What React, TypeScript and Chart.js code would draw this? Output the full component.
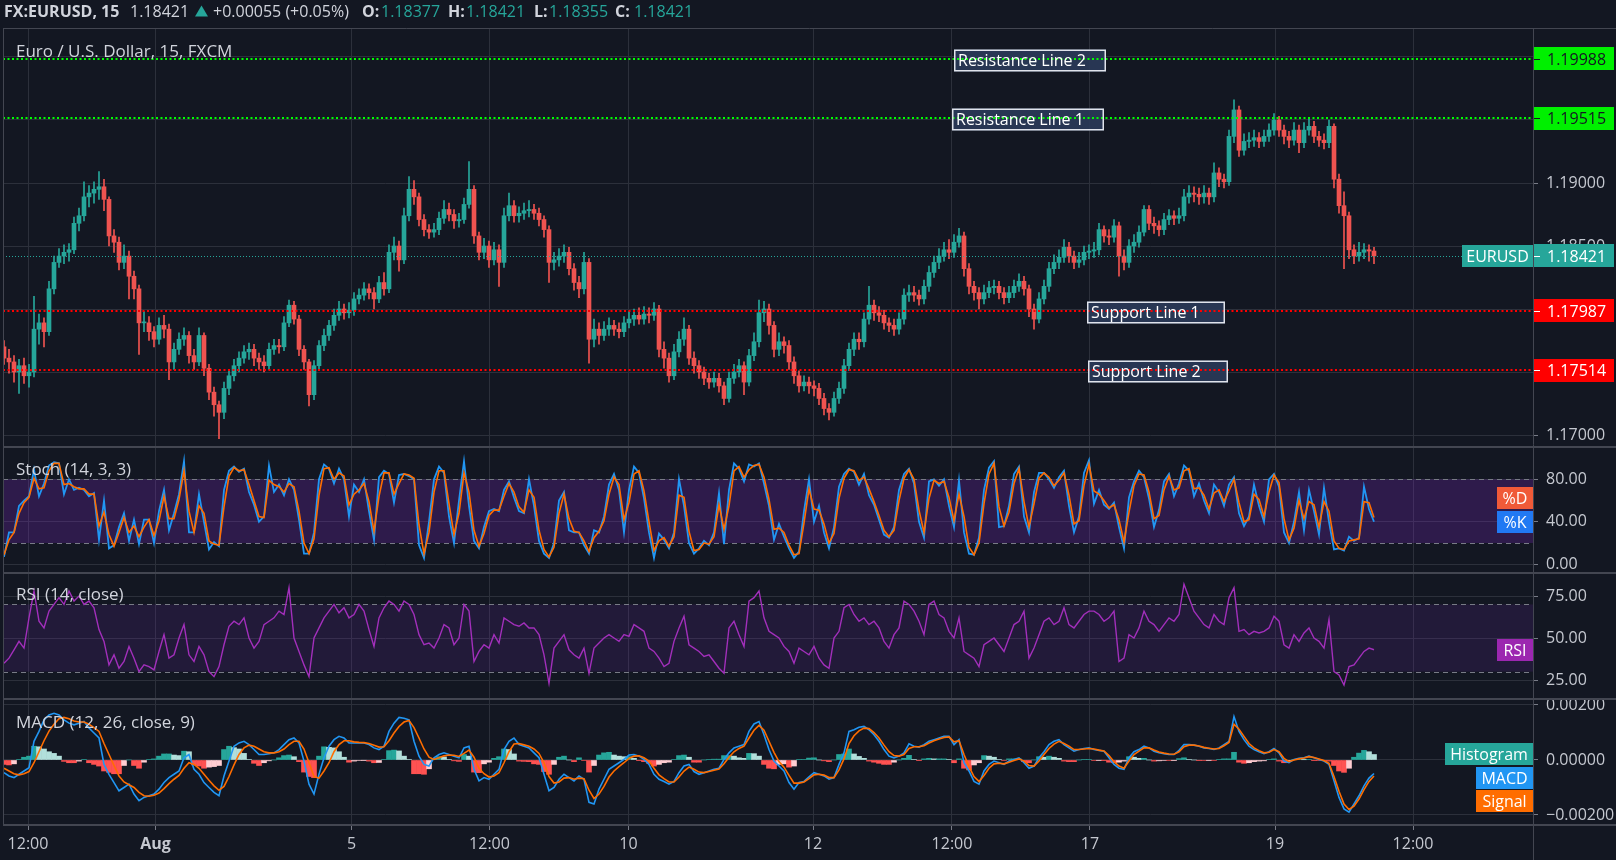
import { useEffect, useRef } from "react";
import { Chart, registerables } from "chart.js";

Chart.register(...registerables);

// ---------------- data (15-min EURUSD, resampled) ----------------
const OPEN = [
  1.1770, 1.1761, 1.1758, 1.1750, 1.1755, 1.1747, 1.1750, 1.1784, 1.1789, 1.1782,
  1.1816, 1.1837, 1.1842, 1.1845, 1.1847, 1.1868, 1.1874, 1.1889, 1.1892, 1.1895,
  1.1897, 1.1887, 1.1858, 1.1853, 1.1837, 1.1842, 1.1826, 1.1816, 1.1789, 1.1789,
  1.1782, 1.1776, 1.1787, 1.1784, 1.1758, 1.1768, 1.1776, 1.1779, 1.1763, 1.1758,
  1.1779, 1.1753, 1.1734, 1.1724, 1.1718, 1.1737, 1.1747, 1.1755, 1.1761, 1.1766,
  1.1768, 1.1761, 1.1758, 1.1755, 1.1768, 1.1771, 1.1770, 1.1789, 1.1803, 1.1792,
  1.1768, 1.1758, 1.1732, 1.1755, 1.1771, 1.1779, 1.1787, 1.1795, 1.1800, 1.1797,
  1.1799, 1.1808, 1.1811, 1.1816, 1.1813, 1.1808, 1.1821, 1.1816, 1.1845, 1.1850,
  1.1839, 1.1874, 1.1895, 1.1889, 1.1871, 1.1863, 1.1861, 1.1863, 1.1872, 1.1879,
  1.1875, 1.1870, 1.1871, 1.1883, 1.1895, 1.1858, 1.1845, 1.1850, 1.1839, 1.1847,
  1.1837, 1.1874, 1.1882, 1.1874, 1.1876, 1.1878, 1.1879, 1.1876, 1.1871, 1.1863,
  1.1837, 1.1839, 1.1842, 1.1845, 1.1832, 1.1821, 1.1816, 1.1837, 1.1776, 1.1784,
  1.1779, 1.1784, 1.1787, 1.1784, 1.1782, 1.1789, 1.1792, 1.1795, 1.1792, 1.1796,
  1.1795, 1.1800, 1.1768, 1.1761, 1.1747, 1.1766, 1.1776, 1.1784, 1.1761, 1.1755,
  1.1750, 1.1745, 1.1742, 1.1745, 1.1739, 1.1729, 1.1745, 1.1750, 1.1755, 1.1742,
  1.1763, 1.1774, 1.1797, 1.1800, 1.1787, 1.1768, 1.1774, 1.1771, 1.1758, 1.1747,
  1.1739, 1.1742, 1.1739, 1.1737, 1.1729, 1.1721, 1.1718, 1.1729, 1.1737, 1.1755,
  1.1768, 1.1776, 1.1774, 1.1792, 1.1803, 1.1797, 1.1795, 1.1789, 1.1787, 1.1784,
  1.1792, 1.1811, 1.1813, 1.1811, 1.1808, 1.1818, 1.1829, 1.1837, 1.1842, 1.1847,
  1.1845, 1.1853, 1.1858, 1.1832, 1.1818, 1.1813, 1.1808, 1.1813, 1.1817, 1.1818,
  1.1813, 1.1809, 1.1813, 1.1818, 1.1822, 1.1816, 1.1800, 1.1792, 1.1808, 1.1818,
  1.1832, 1.1837, 1.1841, 1.1849, 1.1842, 1.1837, 1.1839, 1.1845, 1.1846, 1.1847,
  1.1863, 1.1858, 1.1857, 1.1866, 1.1842, 1.1837, 1.1850, 1.1853, 1.1861, 1.1879,
  1.1868, 1.1866, 1.1863, 1.1871, 1.1874, 1.1872, 1.1874, 1.1889, 1.1892, 1.1891,
  1.1889, 1.1892, 1.1889, 1.1908, 1.1903, 1.1901, 1.1937, 1.1958, 1.1926, 1.1933,
  1.1934, 1.1936, 1.1933, 1.1937, 1.1942, 1.1950, 1.1942, 1.1937, 1.1934, 1.1942,
  1.1932, 1.1942, 1.1945, 1.1937, 1.1934, 1.1932, 1.1945, 1.1903, 1.1882, 1.1874,
  1.1847, 1.1842, 1.1845, 1.1847, 1.1846,
];
const HIGH = [
  1.1775, 1.1768, 1.1763, 1.1760, 1.1761, 1.1756, 1.1810, 1.1796, 1.1793, 1.1822,
  1.1842, 1.1848, 1.1851, 1.1852, 1.1873, 1.1880, 1.1901, 1.1898, 1.1901, 1.1909,
  1.1903, 1.1889, 1.1863, 1.1857, 1.1851, 1.1846, 1.1830, 1.1819, 1.1798, 1.1794,
  1.1786, 1.1793, 1.1795, 1.1788, 1.1773, 1.1781, 1.1785, 1.1782, 1.1768, 1.1785,
  1.1781, 1.1756, 1.1738, 1.1727, 1.1742, 1.1752, 1.1760, 1.1766, 1.1771, 1.1773,
  1.1772, 1.1765, 1.1763, 1.1773, 1.1776, 1.1776, 1.1794, 1.1807, 1.1806, 1.1795,
  1.1771, 1.1760, 1.1759, 1.1775, 1.1784, 1.1791, 1.1800, 1.1806, 1.1804, 1.1805,
  1.1813, 1.1816, 1.1821, 1.1820, 1.1817, 1.1826, 1.1829, 1.1851, 1.1857, 1.1854,
  1.1880, 1.1905, 1.1902, 1.1892, 1.1875, 1.1867, 1.1868, 1.1877, 1.1886, 1.1884,
  1.1879, 1.1876, 1.1888, 1.1917, 1.1898, 1.1861, 1.1856, 1.1854, 1.1853, 1.1851,
  1.1880, 1.1892, 1.1886, 1.1881, 1.1884, 1.1886, 1.1883, 1.1880, 1.1874, 1.1866,
  1.1845, 1.1848, 1.1851, 1.1849, 1.1836, 1.1826, 1.1845, 1.1840, 1.1792, 1.1789,
  1.1790, 1.1793, 1.1791, 1.1789, 1.1794, 1.1798, 1.1800, 1.1801, 1.1802, 1.1801,
  1.1805, 1.1803, 1.1774, 1.1765, 1.1772, 1.1782, 1.1793, 1.1787, 1.1766, 1.1759,
  1.1754, 1.1749, 1.1750, 1.1749, 1.1742, 1.1750, 1.1756, 1.1760, 1.1758, 1.1768,
  1.1781, 1.1807, 1.1806, 1.1804, 1.1790, 1.1781, 1.1778, 1.1775, 1.1762, 1.1751,
  1.1747, 1.1746, 1.1743, 1.1741, 1.1733, 1.1725, 1.1734, 1.1742, 1.1760, 1.1773,
  1.1781, 1.1781, 1.1797, 1.1818, 1.1807, 1.1802, 1.1799, 1.1793, 1.1792, 1.1797,
  1.1816, 1.1819, 1.1818, 1.1815, 1.1823, 1.1834, 1.1842, 1.1848, 1.1853, 1.1855,
  1.1859, 1.1864, 1.1861, 1.1836, 1.1822, 1.1817, 1.1819, 1.1822, 1.1823, 1.1822,
  1.1817, 1.1818, 1.1823, 1.1828, 1.1826, 1.1819, 1.1804, 1.1813, 1.1823, 1.1837,
  1.1843, 1.1847, 1.1855, 1.1853, 1.1846, 1.1845, 1.1850, 1.1851, 1.1853, 1.1868,
  1.1866, 1.1863, 1.1871, 1.1869, 1.1847, 1.1855, 1.1859, 1.1866, 1.1882, 1.1882,
  1.1873, 1.1870, 1.1876, 1.1879, 1.1878, 1.1880, 1.1895, 1.1898, 1.1897, 1.1896,
  1.1898, 1.1896, 1.1916, 1.1912, 1.1907, 1.1942, 1.1966, 1.1961, 1.1939, 1.1940,
  1.1942, 1.1940, 1.1942, 1.1947, 1.1955, 1.1953, 1.1946, 1.1941, 1.1948, 1.1946,
  1.1948, 1.1951, 1.1949, 1.1941, 1.1939, 1.1950, 1.1947, 1.1907, 1.1893, 1.1877,
  1.1851, 1.1853, 1.1852, 1.1851, 1.1849,
];
const LOW = [
  1.1756, 1.1749, 1.1742, 1.1733, 1.1741, 1.1738, 1.1746, 1.1772, 1.1770, 1.1779,
  1.1812, 1.1833, 1.1836, 1.1838, 1.1844, 1.1862, 1.1870, 1.1881, 1.1884, 1.1887,
  1.1878, 1.1850, 1.1845, 1.1831, 1.1832, 1.1808, 1.1808, 1.1764, 1.1782, 1.1775,
  1.1770, 1.1772, 1.1777, 1.1744, 1.1752, 1.1764, 1.1771, 1.1757, 1.1752, 1.1755,
  1.1747, 1.1728, 1.1715, 1.1697, 1.1713, 1.1732, 1.1743, 1.1750, 1.1757, 1.1760,
  1.1755, 1.1752, 1.1750, 1.1752, 1.1764, 1.1765, 1.1767, 1.1786, 1.1788, 1.1763,
  1.1752, 1.1723, 1.1728, 1.1751, 1.1767, 1.1775, 1.1783, 1.1791, 1.1792, 1.1793,
  1.1795, 1.1804, 1.1807, 1.1808, 1.1800, 1.1805, 1.1811, 1.1813, 1.1839, 1.1830,
  1.1836, 1.1870, 1.1883, 1.1866, 1.1858, 1.1856, 1.1857, 1.1859, 1.1868, 1.1870,
  1.1864, 1.1865, 1.1868, 1.1880, 1.1852, 1.1839, 1.1840, 1.1833, 1.1835, 1.1818,
  1.1833, 1.1870, 1.1869, 1.1869, 1.1871, 1.1873, 1.1871, 1.1866, 1.1857, 1.1821,
  1.1831, 1.1834, 1.1837, 1.1827, 1.1815, 1.1809, 1.1812, 1.1757, 1.1770, 1.1772,
  1.1775, 1.1779, 1.1779, 1.1777, 1.1778, 1.1785, 1.1787, 1.1788, 1.1788, 1.1789,
  1.1791, 1.1762, 1.1753, 1.1742, 1.1744, 1.1762, 1.1771, 1.1756, 1.1749, 1.1745,
  1.1740, 1.1737, 1.1738, 1.1734, 1.1724, 1.1726, 1.1741, 1.1746, 1.1732, 1.1739,
  1.1759, 1.1770, 1.1790, 1.1780, 1.1762, 1.1763, 1.1765, 1.1752, 1.1741, 1.1734,
  1.1735, 1.1733, 1.1731, 1.1724, 1.1716, 1.1712, 1.1715, 1.1725, 1.1733, 1.1751,
  1.1763, 1.1768, 1.1770, 1.1788, 1.1791, 1.1790, 1.1784, 1.1782, 1.1779, 1.1780,
  1.1788, 1.1806, 1.1806, 1.1803, 1.1804, 1.1814, 1.1825, 1.1832, 1.1838, 1.1840,
  1.1841, 1.1849, 1.1826, 1.1812, 1.1807, 1.1800, 1.1804, 1.1809, 1.1812, 1.1808,
  1.1804, 1.1805, 1.1809, 1.1814, 1.1811, 1.1794, 1.1784, 1.1789, 1.1804, 1.1814,
  1.1828, 1.1832, 1.1837, 1.1837, 1.1832, 1.1833, 1.1835, 1.1840, 1.1841, 1.1843,
  1.1853, 1.1851, 1.1853, 1.1826, 1.1831, 1.1833, 1.1845, 1.1849, 1.1858, 1.1863,
  1.1860, 1.1858, 1.1859, 1.1867, 1.1867, 1.1868, 1.1870, 1.1884, 1.1885, 1.1883,
  1.1884, 1.1883, 1.1885, 1.1897, 1.1896, 1.1898, 1.1932, 1.1921, 1.1922, 1.1928,
  1.1929, 1.1928, 1.1929, 1.1933, 1.1938, 1.1937, 1.1931, 1.1928, 1.1930, 1.1924,
  1.1928, 1.1938, 1.1932, 1.1929, 1.1927, 1.1928, 1.1896, 1.1876, 1.1832, 1.1840,
  1.1836, 1.1838, 1.1840, 1.1838, 1.1836,
];
const CLOSE = [
  1.1761, 1.1758, 1.1750, 1.1755, 1.1747, 1.1750, 1.1784, 1.1789, 1.1782, 1.1816,
  1.1837, 1.1842, 1.1845, 1.1847, 1.1868, 1.1874, 1.1889, 1.1892, 1.1895, 1.1897,
  1.1887, 1.1858, 1.1853, 1.1837, 1.1842, 1.1826, 1.1816, 1.1789, 1.1789, 1.1782,
  1.1776, 1.1787, 1.1784, 1.1758, 1.1768, 1.1776, 1.1779, 1.1763, 1.1758, 1.1779,
  1.1753, 1.1734, 1.1724, 1.1718, 1.1737, 1.1747, 1.1755, 1.1761, 1.1766, 1.1768,
  1.1761, 1.1758, 1.1755, 1.1768, 1.1771, 1.1770, 1.1789, 1.1803, 1.1792, 1.1768,
  1.1758, 1.1732, 1.1755, 1.1771, 1.1779, 1.1787, 1.1795, 1.1800, 1.1797, 1.1799,
  1.1808, 1.1811, 1.1816, 1.1813, 1.1808, 1.1821, 1.1816, 1.1845, 1.1850, 1.1839,
  1.1874, 1.1895, 1.1889, 1.1871, 1.1863, 1.1861, 1.1863, 1.1872, 1.1879, 1.1875,
  1.1870, 1.1871, 1.1883, 1.1895, 1.1858, 1.1845, 1.1850, 1.1839, 1.1847, 1.1837,
  1.1874, 1.1882, 1.1874, 1.1876, 1.1878, 1.1879, 1.1876, 1.1871, 1.1863, 1.1837,
  1.1839, 1.1842, 1.1845, 1.1832, 1.1821, 1.1816, 1.1837, 1.1776, 1.1784, 1.1779,
  1.1784, 1.1787, 1.1784, 1.1782, 1.1789, 1.1792, 1.1795, 1.1792, 1.1796, 1.1795,
  1.1800, 1.1768, 1.1761, 1.1747, 1.1766, 1.1776, 1.1784, 1.1761, 1.1755, 1.1750,
  1.1745, 1.1742, 1.1745, 1.1739, 1.1729, 1.1745, 1.1750, 1.1755, 1.1742, 1.1763,
  1.1774, 1.1797, 1.1800, 1.1787, 1.1768, 1.1774, 1.1771, 1.1758, 1.1747, 1.1739,
  1.1742, 1.1739, 1.1737, 1.1729, 1.1721, 1.1718, 1.1729, 1.1737, 1.1755, 1.1768,
  1.1776, 1.1774, 1.1792, 1.1803, 1.1797, 1.1795, 1.1789, 1.1787, 1.1784, 1.1792,
  1.1811, 1.1813, 1.1811, 1.1808, 1.1818, 1.1829, 1.1837, 1.1842, 1.1847, 1.1845,
  1.1853, 1.1858, 1.1832, 1.1818, 1.1813, 1.1808, 1.1813, 1.1817, 1.1818, 1.1813,
  1.1809, 1.1813, 1.1818, 1.1822, 1.1816, 1.1800, 1.1792, 1.1808, 1.1818, 1.1832,
  1.1837, 1.1841, 1.1849, 1.1842, 1.1837, 1.1839, 1.1845, 1.1846, 1.1847, 1.1863,
  1.1858, 1.1857, 1.1866, 1.1842, 1.1837, 1.1850, 1.1853, 1.1861, 1.1879, 1.1868,
  1.1866, 1.1863, 1.1871, 1.1874, 1.1872, 1.1874, 1.1889, 1.1892, 1.1891, 1.1889,
  1.1892, 1.1889, 1.1908, 1.1903, 1.1901, 1.1937, 1.1958, 1.1926, 1.1933, 1.1934,
  1.1936, 1.1933, 1.1937, 1.1942, 1.1950, 1.1942, 1.1937, 1.1934, 1.1942, 1.1932,
  1.1942, 1.1945, 1.1937, 1.1934, 1.1932, 1.1945, 1.1903, 1.1882, 1.1874, 1.1847,
  1.1842, 1.1845, 1.1847, 1.1846, 1.18421,
];

const STOCH_K = [
  7, 30, 30, 55, 60, 64, 89, 64, 76, 93,
  96, 95, 66, 80, 70, 72, 70, 64, 67, 23,
  60, 15, 18, 35, 48, 22, 42, 19, 42, 42,
  20, 50, 70, 32, 48, 66, 97, 30, 30, 66,
  40, 14, 21, 17, 70, 88, 92, 87, 90, 68,
  56, 40, 45, 93, 68, 75, 65, 80, 70, 42,
  10, 10, 30, 80, 94, 90, 76, 90, 80, 45,
  75, 68, 80, 50, 23, 82, 88, 85, 58, 84,
  85, 83, 80, 18, 6, 40, 80, 92, 86, 45,
  20, 60, 97, 55, 22, 15, 35, 50, 52, 50,
  70, 78, 63, 50, 48, 80, 55, 22, 10, 6,
  20, 60, 68, 32, 30, 30, 18, 10, 32, 30,
  45, 75, 85, 70, 30, 70, 92, 86, 62, 30,
  6, 29, 23, 15, 30, 80, 55, 20, 10, 15,
  22, 18, 30, 67, 19, 70, 95, 90, 78, 94,
  92, 95, 76, 55, 23, 38, 26, 15, 6, 12,
  50, 80, 40, 55, 30, 15, 35, 73, 85, 90,
  87, 75, 85, 65, 56, 42, 28, 25, 35, 70,
  85, 90, 76, 40, 25, 78, 80, 74, 80, 55,
  35, 79, 30, 10, 9, 25, 70, 91, 97, 35,
  36, 55, 85, 92, 45, 30, 68, 86, 86, 80,
  72, 82, 88, 55, 30, 45, 86, 98, 57, 70,
  56, 52, 58, 35, 15, 63, 78, 88, 82, 62,
  35, 51, 78, 85, 64, 76, 93, 88, 64, 76,
  60, 48, 75, 68, 55, 75, 82, 48, 36, 45,
  75, 55, 40, 80, 85, 73, 30, 20, 40, 68,
  32, 70, 50, 28, 72, 40, 14, 15, 13, 26,
  22, 25, 73, 52, 40,
];
const STOCH_D = [
  9, 23, 30, 48, 58, 63, 81, 71, 72, 88,
  95, 95, 75, 76, 73, 71, 71, 66, 66, 36,
  49, 28, 17, 30, 44, 30, 36, 26, 35, 42,
  27, 41, 64, 43, 43, 61, 88, 50, 30, 55,
  48, 22, 19, 18, 54, 83, 91, 88, 89, 75,
  60, 45, 44, 79, 75, 73, 68, 76, 73, 50,
  20, 10, 24, 65, 90, 91, 80, 86, 83, 56,
  66, 70, 76, 59, 31, 64, 86, 86, 66, 76,
  85, 84, 81, 37, 10, 30, 68, 88, 88, 57,
  28, 48, 86, 68, 32, 17, 29, 46, 51, 51,
  64, 76, 68, 54, 49, 70, 63, 32, 14, 7,
  16, 48, 66, 43, 31, 30, 22, 12, 25, 31,
  41, 66, 82, 75, 42, 58, 85, 88, 69, 40,
  13, 22, 25, 17, 26, 65, 63, 31, 13, 14,
  20, 19, 26, 56, 33, 55, 88, 92, 82, 89,
  93, 94, 82, 61, 33, 34, 30, 18, 9, 10,
  39, 71, 52, 51, 38, 20, 29, 62, 81, 89,
  88, 79, 82, 71, 59, 46, 32, 26, 32, 60,
  81, 89, 80, 51, 30, 62, 79, 76, 78, 63,
  41, 66, 45, 16, 9, 20, 57, 85, 95, 54,
  36, 49, 76, 90, 59, 35, 57, 81, 86, 82,
  74, 79, 86, 65, 38, 41, 74, 94, 69, 66,
  60, 53, 56, 42, 21, 49, 74, 85, 84, 68,
  43, 46, 70, 83, 70, 72, 88, 90, 71, 72,
  65, 52, 67, 70, 59, 69, 80, 58, 40, 42,
  66, 61, 45, 68, 84, 77, 43, 23, 34, 60,
  43, 59, 56, 35, 59, 50, 22, 15, 14, 22,
  23, 24, 59, 58, 44,
];

const RSI = [
  35, 38, 43, 48, 44, 62, 78, 60, 56, 66,
  70, 74, 70, 78, 72, 75, 70, 72, 68, 55,
  48, 34, 40, 32, 36, 45, 38, 30, 34, 33,
  31, 42, 52, 38, 40, 50, 58, 40, 36, 45,
  40, 30, 27, 33, 46, 57, 60, 58, 62, 50,
  44, 48, 58, 60, 62, 66, 64, 80, 50, 42,
  34, 27, 50, 56, 62, 66, 70, 65, 68, 62,
  64, 70, 66, 55, 45, 62, 68, 72, 70, 66,
  72, 70, 64, 52, 46, 47, 44, 50, 58, 56,
  46, 50, 70, 66, 36, 42, 46, 44, 52, 47,
  62, 60, 58, 57, 59, 56, 56, 52, 40, 23,
  44, 48, 52, 43, 40, 38, 44, 29, 44, 47,
  50, 52, 50, 48, 52, 51, 58, 56, 54, 44,
  42, 38, 33, 35, 48, 56, 63, 46, 44, 42,
  39, 40, 36, 32, 29, 56, 60, 52, 45, 72,
  74, 78, 62, 54, 52, 50, 45, 42, 35, 44,
  42, 40, 45, 38, 34, 32, 50, 54, 68, 70,
  64, 60, 62, 58, 60, 56, 48, 44, 52, 56,
  72, 70, 66, 60, 52, 70, 72, 64, 62, 54,
  50, 62, 42, 40, 38, 33, 46, 48, 50, 46,
  42, 50, 58, 60, 66, 38, 44, 52, 60, 62,
  58, 60, 68, 58, 56, 60, 64, 66, 66, 64,
  60, 62, 66, 36, 38, 52, 50, 56, 66, 60,
  58, 54, 58, 62, 60, 64, 82, 74, 66, 62,
  58, 56, 64, 60, 58, 74, 80, 54, 55, 52,
  54, 53, 54, 56, 63, 60, 46, 44, 52, 48,
  53, 56, 50, 48, 44, 61, 30, 28, 22, 33,
  34, 38, 42, 44, 43,
];

const MACD = [
  -0.00046, -0.00058, -0.00064, -0.00052, -0.0004, -0.00028, 0.00068, 0.00104, 0.00146, 0.00164,
  0.0017, 0.00164, 0.00146, 0.00134, 0.00128, 0.00134, 0.0014, 0.00116, 0.00098, 0.0008,
  -0.00016, -0.00052, -0.00082, -0.00112, -0.001, -0.00088, -0.00124, -0.00148, -0.00136, -0.0013,
  -0.00124, -0.00106, -0.00082, -0.00064, -0.00052, -0.0004, 0.00008, 0.0002, -0.00034, -0.00052,
  -0.00082, -0.001, -0.00118, -0.0013, -0.00058, -0.00004, 0.0005, 0.00062, 0.00068, 0.00056,
  0.00038, 0.0002, 0.0002, 0.00023, 0.00026, 0.00038, 0.00056, 0.00074, 0.0008, 0.00062,
  -0.00004, -0.00088, -0.00124, -0.00052, 0.00008, 0.0005, 0.00074, 0.00086, 0.0008, 0.00062,
  0.00062, 0.00062, 0.00062, 0.00056, 0.00044, 0.00038, 0.0005, 0.00104, 0.00134, 0.00155,
  0.00152, 0.00146, 0.00068, 0.00014, -0.00016, -0.00022, 0.00008, 0.0002, 0.00026, 0.0002,
  0.00014, 0.00008, 0.00044, 0.0005, -0.00034, -0.00076, -0.00064, -0.0007, -0.00052, -0.00034,
  0.00038, 0.00068, 0.0008, 0.00056, 0.0005, 0.00044, 0.00026, 0.00008, -0.00052, -0.00112,
  -0.001, -0.0007, -0.00052, -0.00064, -0.00076, -0.00058, -0.0007, -0.00154, -0.0016, -0.00106,
  -0.0007, -0.00034, -0.00022, -0.0001, 0.00002, 0.00018, 0.0002, 0.00014, 0.00002, -0.00016,
  -0.00052, -0.0007, -0.00078, -0.00088, -0.00078, -0.00046, -0.00022, -0.00016, -0.00042, -0.00052,
  -0.00046, -0.0004, -0.00034, -0.0003, 0.00002, 0.00026, 0.00044, 0.0005, 0.00056, 0.00104,
  0.00131, 0.0014, 0.00092, 0.00038, -0.00004, -0.00022, -0.0004, -0.00082, -0.00106, -0.00082,
  -0.00078, -0.00061, -0.00046, -0.00052, -0.00058, -0.0007, -0.00064, -0.00016, 0.00026, 0.00104,
  0.0011, 0.00119, 0.00122, 0.0011, 0.00092, 0.00068, 0.00038, 0.00014, 0.00008, 0.00014,
  0.00026, 0.00059, 0.0005, 0.00047, 0.00056, 0.00068, 0.00074, 0.0008, 0.00086, 0.00086,
  0.00056, 0.00074, -0.0001, -0.0004, -0.00078, -0.00088, -0.0004, -0.00016, -0.00004, -0.0001,
  -0.00016, -0.00004, 0.00002, 0.00008, -0.0001, -0.0003, -0.00022, 0.00008, 0.0003, 0.00056,
  0.00068, 0.00074, 0.00056, 0.00044, 0.00032, 0.00038, 0.00042, 0.00044, 0.00038, 0.00035,
  0.00032, 0.00008, -0.00016, -0.0003, -0.00034, 0.00008, 0.0003, 0.00038, 0.0005, 0.00044,
  0.00032, 0.00026, 0.00023, 0.0002, 0.0002, 0.00035, 0.00056, 0.00056, 0.00054, 0.0005,
  0.00044, 0.00042, 0.00038, 0.00044, 0.00056, 0.00068, 0.00158, 0.00104, 0.00074, 0.0005,
  0.00038, 0.0003, 0.00023, 0.0003, 0.00042, 0.00026, -0.00004, -0.0001, 0.00002, 0.00006,
  0.00008, 0.00014, 0.00008, 0.00002, -0.00004, -0.00016, -0.00076, -0.00136, -0.00178, -0.0019,
  -0.0016, -0.0013, -0.00094, -0.00066, -0.00049,
];
const SIGNAL = [
  -0.0003, -0.0004, -0.0005, -0.00054, -0.0005, -0.00042, -0.0001, 0.0003, 0.0007, 0.00105,
  0.0013, 0.0015, 0.00155, 0.0015, 0.00142, 0.00138, 0.00138, 0.0013, 0.00118, 0.00104,
  0.0006, 0.0002, -0.0002, -0.00058, -0.0008, -0.0009, -0.001, -0.00118, -0.0013, -0.00132,
  -0.00128, -0.0012, -0.00104, -0.00086, -0.0007, -0.00056, -0.0003, -0.0001, -0.00016, -0.0003,
  -0.00052, -0.00074, -0.00094, -0.0011, -0.00096, -0.0006, -0.00018, 0.0002, 0.00044, 0.00054,
  0.0005, 0.0004, 0.0003, 0.00026, 0.00026, 0.0003, 0.0004, 0.00056, 0.00068, 0.00068,
  0.0004, -0.0001, -0.0006, -0.00066, -0.0004, -0.0001, 0.0003, 0.00056, 0.0007, 0.0007,
  0.00066, 0.00064, 0.00063, 0.0006, 0.00054, 0.00047, 0.00048, 0.0007, 0.00098, 0.00122,
  0.00138, 0.00144, 0.00118, 0.0008, 0.0004, 0.0001, 0.00002, 0.00008, 0.00015, 0.00018,
  0.00017, 0.00013, 0.00024, 0.00036, 0.0001, -0.0003, -0.0005, -0.00062, -0.00058, -0.00046,
  -0.0001, 0.0003, 0.00058, 0.0006, 0.00055, 0.0005, 0.0004, 0.00024, -0.0001, -0.0006,
  -0.00084, -0.0008, -0.00066, -0.00064, -0.0007, -0.00066, -0.00068, -0.0011, -0.0014, -0.00124,
  -0.00096, -0.00062, -0.0004, -0.00024, -0.0001, 0.00006, 0.00014, 0.00015, 0.00008, -0.00004,
  -0.0003, -0.00054, -0.00068, -0.0008, -0.0008, -0.00062, -0.0004, -0.00026, -0.00034, -0.00044,
  -0.00046, -0.00042, -0.00037, -0.00033, -0.00014, 0.0001, 0.0003, 0.00042, 0.0005, 0.0008,
  0.00108, 0.00126, 0.00108, 0.00068, 0.00028, -0.00006, -0.00026, -0.00056, -0.00084, -0.00084,
  -0.0008, -0.00068, -0.00054, -0.00052, -0.00055, -0.00064, -0.00064, -0.00036, 0.00004, 0.0006,
  0.00088, 0.00106, 0.00116, 0.00114, 0.001, 0.0008, 0.00054, 0.0003, 0.00016, 0.00014,
  0.0002, 0.00042, 0.00048, 0.00048, 0.00052, 0.00062, 0.0007, 0.00076, 0.00082, 0.00084,
  0.00066, 0.0007, 0.0002, -0.00024, -0.0006, -0.00078, -0.00056, -0.0003, -0.00014, -0.00012,
  -0.00014, -0.00008, -0.00002, 0.00004, -0.00004, -0.0002, -0.00022, -0.00004, 0.0002, 0.00042,
  0.00058, 0.00068, 0.0006, 0.0005, 0.00038, 0.00038, 0.0004, 0.00042, 0.0004, 0.00036,
  0.00033, 0.00016, -0.00006, -0.00022, -0.0003, -0.00004, 0.0002, 0.00032, 0.00044, 0.00044,
  0.00036, 0.00029, 0.00025, 0.00022, 0.00021, 0.0003, 0.00048, 0.00054, 0.00054, 0.00051,
  0.00046, 0.00043, 0.0004, 0.00042, 0.00052, 0.00064, 0.0013, 0.00112, 0.00086, 0.0006,
  0.00044, 0.00034, 0.00026, 0.00028, 0.00038, 0.0003, 0.00006, -0.00006, 0.0, 0.00004,
  0.00007, 0.00012, 0.00009, 0.00004, -0.00002, -0.00012, -0.0006, -0.00114, -0.0016, -0.0018,
  -0.00168, -0.00142, -0.00108, -0.00078, -0.00058,
];
const HIST = [
  -0.00016, -0.00018, -0.00014, 0.00002, 0.0001, 0.00014, 0.0005, 0.00048, 0.0004, 0.0003,
  0.00024, 0.00014, -0.00005, -0.0001, -0.0001, -0.00004, 0.00002, -0.0001, -0.00016, -0.00022,
  -0.0004, -0.00045, -0.0005, -0.0005, -0.0002, 0.0, -0.0002, -0.0003, -0.00008, 0.00002,
  0.00004, 0.00014, 0.00022, 0.00022, 0.00018, 0.00016, 0.00032, 0.0003, -0.00018, -0.00022,
  -0.0003, -0.00026, -0.00024, -0.0002, 0.00038, 0.0005, 0.00045, 0.0004, 0.00024, 0.00002,
  -0.00012, -0.0002, -0.0001, -0.00003, 0.0, 0.00008, 0.00016, 0.00018, 0.00012, -0.00006,
  -0.00044, -0.0006, -0.00064, 0.00014, 0.00048, 0.00046, 0.00044, 0.0003, 0.0001, -0.00008,
  -0.00004, -0.00002, -0.00001, -0.00004, -0.0001, -0.00009, 0.00002, 0.00034, 0.00036, 0.00033,
  0.00014, 0.00002, -0.0005, -0.0005, -0.00052, -0.00032, 0.00006, 0.00012, 0.00011, 0.00002,
  -0.00003, -0.00005, 0.0002, 0.00014, -0.00044, -0.00046, -0.00014, -0.00008, 0.00006, 0.00012,
  0.0004, 0.00038, 0.00022, -0.00004, -0.00005, -0.00006, -0.00014, -0.00016, -0.00042, -0.00052,
  -0.00016, 0.0001, 0.00014, 0.0, -0.00006, 0.00008, -0.00002, -0.00044, -0.0002, 0.00018,
  0.00026, 0.00028, 0.00018, 0.00014, 0.00012, 0.00012, 0.00006, -0.00001, -0.00006, -0.00012,
  -0.00022, -0.00016, -0.0001, -0.00008, 0.00002, 0.00016, 0.00018, 0.0001, -0.00008, -0.00008,
  0.0, 0.00002, 0.00003, 0.00003, 0.00016, 0.00016, 0.00014, 0.00008, 0.00006, 0.00024,
  0.00023, 0.00014, -0.00016, -0.0003, -0.00032, -0.00016, -0.00014, -0.00026, -0.00022, 0.00002,
  0.00002, 0.00007, 0.00008, 0.0, -0.00003, -0.00006, 0.0, 0.0002, 0.00022, 0.0004,
  0.00022, 0.00013, 0.00006, -0.00004, -0.00008, -0.00012, -0.00016, -0.00016, -0.00008, 0.0,
  0.00006, 0.00017, 0.00002, -0.00001, 0.00004, 0.00006, 0.00004, 0.00004, 0.00004, 0.00002,
  -0.0001, 0.00004, -0.0003, -0.00036, -0.00018, -0.0001, 0.00016, 0.00014, 0.0001, 0.00002,
  -0.00002, 0.00004, 0.00004, 0.00004, -0.00006, -0.0001, 0.0, 0.00012, 0.0001, 0.00014,
  0.0001, 0.00006, -0.00004, -0.00006, -0.00006, 0.0, 0.00002, 0.00002, -0.00002, -0.00001,
  -0.00001, -0.00008, -0.0001, -0.00008, -0.00004, 0.00012, 0.0001, 0.00006, 0.00006, 0.0,
  -0.00004, -0.00003, -0.00002, -0.00002, -0.00001, 0.00005, 0.00008, 0.00002, 0.0, -0.00001,
  -0.00002, -0.00001, -0.00002, 0.00002, 0.00004, 0.00004, 0.00028, -0.00008, -0.00012, -0.0001,
  -0.00006, -0.00004, -0.00003, 0.00002, 0.00004, -0.00004, -0.0001, -0.00004, 0.00002, 0.00002,
  0.00001, 0.00002, -0.00001, -0.00002, -0.00002, -0.00004, -0.0002, -0.0004, -0.00045, -0.0003,
  0.0001, 0.00025, 0.00035, 0.0003, 0.0002,
];

const X_TICK_POS = [4.8, 30.3, 69.5, 97.1, 124.9, 161.8, 189.6, 217.2, 254.2, 281.8];
const X_TICK_LABELS = ["12:00", "Aug", "5", "12:00", "10", "12", "12:00", "17", "19", "12:00"];
const PRICE_TICKS = [1.17, 1.175, 1.18, 1.185, 1.19, 1.195, 1.2];
const STOCH_TICKS = [0, 40, 80];
const RSI_TICKS = [25, 50, 75];
const MACD_TICKS = [-0.002, 0, 0.002];
const STOCH_BAND = [20, 80];
const RSI_BAND = [30, 70];
const LEVEL_NAMES = ["Resistance Line 2", "Resistance Line 1", "Support Line 1", "Support Line 2"];
const LEVEL_VALUES = [1.19988, 1.19515, 1.17987, 1.17514];
const LAST_PRICE = 1.18421;
const SYMBOL_NAME = "EURUSD";
const HEADER_SYMBOL = "FX:EURUSD, 15";
const HEADER_CHANGE = "+0.00055 (+0.05%)";
const HEADER_KEYS = ["O:", "H:", "L:", "C:"];
const HEADER_OHLC = [1.18377, 1.18421, 1.18355, 1.18421];
const PANE_TITLES = ["Euro / U.S. Dollar, 15, FXCM", "Stoch (14, 3, 3)", "RSI (14, close)", "MACD (12, 26, close, 9)"];

// ---------------- styles ----------------
const W = 1616;
const H = 860;
const FAM = "'Open Sans', 'Noto Sans', sans-serif";
const BG = "#131722";
const GRID = "#2c303b";
const SEP = "#434651";
const TEXT = "#d1d4dc";
const AXIS_TEXT = "#c5c8d0";
const UP = "#26a69a";
const DOWN = "#ef5350";
const TEAL = "#26a69a";
const GREEN = "#00ff00";
const RED = "#ff0000";
const BLUE = "#2196f3";
const ORANGE = "#ff6d00";
const PURPLE = "#a22fbb";

const histColors = HIST.map((v, i) => {
  const prev = i > 0 ? HIST[i - 1] : 0;
  if (v >= 0) return v >= prev ? "#26a69a" : "#b2dfdb";
  return v <= prev ? "#ff5252" : "#ffcdd2";
});

function hLine(ctx: CanvasRenderingContext2D, x1: number, x2: number, y: number) {
  ctx.beginPath();
  ctx.moveTo(x1, y);
  ctx.lineTo(x2, y);
  ctx.stroke();
}
function vLine(ctx: CanvasRenderingContext2D, x: number, y1: number, y2: number) {
  ctx.beginPath();
  ctx.moveTo(x, y1);
  ctx.lineTo(x, y2);
  ctx.stroke();
}
function boxTag(ctx: CanvasRenderingContext2D, x1: number, x2: number, yc: number, fill: string, text: string, color: string) {
  const h = 22;
  ctx.fillStyle = fill;
  ctx.fillRect(x1, Math.round(yc - h / 2), x2 - x1, h);
  ctx.fillStyle = color;
  ctx.font = `16px ${FAM}`;
  ctx.textAlign = "center";
  ctx.textBaseline = "middle";
  ctx.fillText(text, (x1 + x2) / 2, Math.round(yc) + 1);
}
function priceTag(ctx: CanvasRenderingContext2D, left: number, yc: number, fill: string, text: string, color: string) {
  const h = 23;
  ctx.fillStyle = fill;
  ctx.fillRect(left, Math.round(yc - h / 2), W - 2 - left, h);
  ctx.strokeStyle = color;
  ctx.lineWidth = 1;
  hLine(ctx, left, left + 6, Math.round(yc) + 0.5);
  ctx.fillStyle = color;
  ctx.font = `16px ${FAM}`;
  ctx.textAlign = "left";
  ctx.textBaseline = "middle";
  ctx.fillText(text, left + 13, Math.round(yc) + 1);
}

const LABEL_BOXES = [
  [954, 1106],
  [952, 1104],
  [1087, 1225],
  [1088, 1228],
];

const overlay = {
  id: "tvOverlay",
  beforeDraw(chart: any) {
    const { ctx } = chart;
    ctx.save();
    ctx.fillStyle = BG;
    ctx.fillRect(0, 0, chart.width, chart.height);
    ctx.restore();
  },
  beforeDatasetsDraw(chart: any) {
    const { ctx, chartArea: ca, scales } = chart;
    const yS = scales.yStoch;
    const yR = scales.yRsi;
    ctx.save();
    const s1 = yS.getPixelForValue(STOCH_BAND[1]);
    const s0 = yS.getPixelForValue(STOCH_BAND[0]);
    ctx.fillStyle = "rgba(126, 40, 200, 0.25)";
    ctx.fillRect(ca.left, s1, ca.right - ca.left, s0 - s1);
    const r1 = yR.getPixelForValue(RSI_BAND[1]);
    const r0 = yR.getPixelForValue(RSI_BAND[0]);
    ctx.fillStyle = "rgba(110, 40, 170, 0.17)";
    ctx.fillRect(ca.left, r1, ca.right - ca.left, r0 - r1);
    ctx.setLineDash([5, 4]);
    ctx.lineWidth = 1;
    ctx.strokeStyle = "#787b86";
    for (const y of [s0, s1, r0, r1]) hLine(ctx, ca.left, ca.right, Math.round(y) + 0.5);
    ctx.restore();
  },
  afterDatasetsDraw(chart: any) {
    const { ctx, chartArea: ca, scales } = chart;
    const yM = scales.yMain;
    ctx.save();
    // current price line
    ctx.setLineDash([1, 2]);
    ctx.lineWidth = 1;
    ctx.strokeStyle = TEAL;
    hLine(ctx, ca.left, ca.right, Math.round(yM.getPixelForValue(LAST_PRICE)) + 0.5);
    // horizontal levels with label boxes
    LEVEL_VALUES.forEach((v, i) => {
      const y = Math.round(yM.getPixelForValue(v));
      const color = i < 2 ? GREEN : RED;
      const [bx1, bx2] = LABEL_BOXES[i];
      const bc = y + 1.5;
      ctx.setLineDash([]);
      ctx.fillStyle = "rgba(42, 57, 88, 0.92)";
      ctx.fillRect(bx1, bc - 11, bx2 - bx1, 22);
      ctx.setLineDash([2, 2.5]);
      ctx.lineWidth = 2;
      ctx.strokeStyle = color;
      hLine(ctx, ca.left, ca.right, y);
      ctx.setLineDash([]);
      ctx.lineWidth = 1.5;
      ctx.strokeStyle = "#e0e3eb";
      ctx.strokeRect(bx1 + 0.75, bc - 11 + 0.75, bx2 - bx1 - 1.5, 22 - 1.5);
      ctx.fillStyle = "#ffffff";
      ctx.font = `16px ${FAM}`;
      ctx.textAlign = "left";
      ctx.textBaseline = "middle";
      ctx.fillText(LEVEL_NAMES[i], bx1 + 4, bc + 1);
    });
    ctx.restore();
  },
  afterDraw(chart: any) {
    const { ctx, chartArea: ca, scales } = chart;
    const yM = scales.yMain;
    const yS = scales.yStoch;
    const yR = scales.yRsi;
    const yC = scales.yMacd;
    ctx.save();
    // frame & pane separators
    ctx.strokeStyle = SEP;
    ctx.lineWidth = 2;
    for (const y of [yM.bottom, yS.bottom, yR.bottom, yC.bottom]) hLine(ctx, ca.left, W, y);
    ctx.lineWidth = 1;
    hLine(ctx, ca.left, W, ca.top - 0.5);
    vLine(ctx, ca.left + 0.5, ca.top, ca.bottom);
    vLine(ctx, ca.right + 0.5, ca.top, H);

    // pane titles
    ctx.fillStyle = TEXT;
    ctx.font = `17px ${FAM}`;
    ctx.textAlign = "left";
    ctx.textBaseline = "alphabetic";
    const titleY = [57, 475, 600, 728];
    PANE_TITLES.forEach((t, i) => ctx.fillText(t, 16, titleY[i]));

    // header
    const hy = 16.5;
    ctx.font = `bold 16px ${FAM}`;
    ctx.fillStyle = TEXT;
    ctx.fillText(HEADER_SYMBOL, 4, hy);
    ctx.font = `16px ${FAM}`;
    ctx.fillText(LAST_PRICE.toFixed(5), 130, hy);
    ctx.fillStyle = TEAL;
    ctx.beginPath();
    ctx.moveTo(195, hy);
    ctx.lineTo(208, hy);
    ctx.lineTo(201.5, 5.5);
    ctx.closePath();
    ctx.fill();
    ctx.fillStyle = TEXT;
    ctx.fillText(HEADER_CHANGE, 213, hy);
    const keyX = [362, 448, 534, 615];
    const valX = [381, 466, 549, 634];
    HEADER_KEYS.forEach((k, i) => {
      ctx.font = `bold 16px ${FAM}`;
      ctx.fillStyle = TEXT;
      ctx.fillText(k, keyX[i], hy);
      ctx.font = `16px ${FAM}`;
      ctx.fillStyle = TEAL;
      ctx.fillText(HEADER_OHLC[i].toFixed(5), valX[i], hy);
    });

    // price-axis tags for the levels
    const axL = ca.right + 1;
    LEVEL_VALUES.forEach((v, i) => {
      const y = yM.getPixelForValue(v);
      if (i < 2) priceTag(ctx, axL, y, "#00f000", v.toFixed(5), "#131722");
      else priceTag(ctx, axL, y, RED, v.toFixed(5), "#ffffff");
    });
    const py = yM.getPixelForValue(LAST_PRICE);
    priceTag(ctx, axL, py, TEAL, LAST_PRICE.toFixed(5), "#ffffff");
    boxTag(ctx, 1462, ca.right, py, TEAL, SYMBOL_NAME, "#ffffff");

    // stoch tags
    const kY = yS.getPixelForValue(STOCH_K[STOCH_K.length - 1]);
    const dY = Math.min(yS.getPixelForValue(STOCH_D[STOCH_D.length - 1]), kY - 24);
    boxTag(ctx, 1497, ca.right, dY, "#f05a38", "%D", "#ffffff");
    boxTag(ctx, 1497, ca.right, kY, "#2179f3", "%K", "#ffffff");
    // rsi tag
    const rY = yR.getPixelForValue(RSI[RSI.length - 1]);
    boxTag(ctx, 1497, ca.right, rY, "#9c27b0", "RSI", "#ffffff");
    // macd tags
    const hY = yC.getPixelForValue(HIST[HIST.length - 1]);
    const mY = Math.max(yC.getPixelForValue(MACD[MACD.length - 1]), hY + 24);
    const sY = Math.max(yC.getPixelForValue(SIGNAL[SIGNAL.length - 1]), mY + 23);
    boxTag(ctx, 1445, ca.right, hY, TEAL, "Histogram", "#ffffff");
    boxTag(ctx, 1476, ca.right, mY, BLUE, "MACD", "#ffffff");
    boxTag(ctx, 1476, ca.right, sY, ORANGE, "Signal", "#ffffff");
    ctx.restore();
  },
};

function yAxis(weight: number, min: number, max: number, ticks: number[], fmt: (v: number) => string) {
  return {
    type: "linear",
    position: "right",
    stack: "panes",
    stackWeight: weight,
    min,
    max,
    grid: { color: GRID, lineWidth: 1, drawTicks: true, tickLength: 5, tickColor: "#787b86" },
    border: { display: false },
    ticks: {
      autoSkip: false,
      padding: 8,
      color: AXIS_TEXT,
      font: { family: FAM, size: 16 },
      callback: (v: number) => fmt(v),
    },
    afterBuildTicks: (s: any) => {
      s.ticks = ticks.map((v) => ({ value: v }));
    },
    afterFit: (s: any) => {
      s.width = W - 1533;
    },
  };
}

export default function App() {
  const ref = useRef<HTMLCanvasElement>(null);

  useEffect(() => {
    const idx = CLOSE.map((_, i) => i);
    const chart = new Chart(ref.current as HTMLCanvasElement, {
      type: "bar",
      data: {
        datasets: [
          {
            type: "bar",
            yAxisID: "yMain",
            data: idx.map((i) => ({ x: i, y: [LOW[i], HIGH[i]] })),
            backgroundColor: idx.map((i) => (CLOSE[i] >= OPEN[i] ? UP : DOWN)),
            barThickness: 1,
            grouped: false,
            order: 6,
          },
          {
            type: "bar",
            yAxisID: "yMain",
            data: idx.map((i) => ({ x: i, y: [OPEN[i], CLOSE[i]] })),
            backgroundColor: idx.map((i) => (CLOSE[i] >= OPEN[i] ? UP : DOWN)),
            barThickness: 4,
            minBarLength: 1,
            grouped: false,
            order: 5,
          },
          {
            type: "line",
            yAxisID: "yStoch",
            data: STOCH_K.map((v, i) => ({ x: i, y: v })),
            borderColor: BLUE,
            borderWidth: 1.8,
            pointRadius: 0,
            order: 4,
          },
          {
            type: "line",
            yAxisID: "yStoch",
            data: STOCH_D.map((v, i) => ({ x: i, y: v })),
            borderColor: ORANGE,
            borderWidth: 1.6,
            pointRadius: 0,
            order: 3,
          },
          {
            type: "line",
            yAxisID: "yRsi",
            data: RSI.map((v, i) => ({ x: i, y: v })),
            borderColor: PURPLE,
            borderWidth: 1.4,
            pointRadius: 0,
            order: 3,
          },
          {
            type: "bar",
            yAxisID: "yMacd",
            data: HIST.map((v, i) => ({ x: i, y: v })),
            backgroundColor: histColors,
            barThickness: 5,
            grouped: false,
            order: 7,
          },
          {
            type: "line",
            yAxisID: "yMacd",
            data: MACD.map((v, i) => ({ x: i, y: v })),
            borderColor: BLUE,
            borderWidth: 1.6,
            pointRadius: 0,
            order: 2,
          },
          {
            type: "line",
            yAxisID: "yMacd",
            data: SIGNAL.map((v, i) => ({ x: i, y: v })),
            borderColor: ORANGE,
            borderWidth: 1.6,
            pointRadius: 0,
            order: 1,
          },
        ],
      } as any,
      options: {
        animation: false,
        responsive: false,
        events: [],
        layout: { padding: { top: 29, left: 3, right: 0, bottom: 0 } },
        plugins: { legend: { display: false }, tooltip: { enabled: false } },
        scales: {
          x: {
            type: "linear",
            position: "bottom",
            min: -0.2,
            max: 305.8,
            offset: false,
            grid: { color: GRID, lineWidth: 1, drawTicks: true, tickLength: 5, tickColor: "#787b86", offset: false },
            border: { display: false },
            ticks: {
              autoSkip: false,
              maxRotation: 0,
              padding: 5,
              color: AXIS_TEXT,
              font: (c: any) => ({ family: FAM, size: 16, weight: X_TICK_LABELS[c.index] === "Aug" ? "bold" : "normal" }),
              callback: (_v: number, i: number) => X_TICK_LABELS[i] ?? "",
            },
            afterBuildTicks: (s: any) => {
              s.ticks = X_TICK_POS.map((v) => ({ value: v }));
            },
            afterFit: (s: any) => {
              s.height = 35;
            },
          },
          yMain: yAxis(418, 1.169048, 1.202222, PRICE_TICKS, (v) => v.toFixed(5)),
          yStoch: yAxis(126, -8.2, 110.4, STOCH_TICKS, (v) => v.toFixed(2)),
          yRsi: yAxis(126, 13.7, 88.7, RSI_TICKS, (v) => v.toFixed(2)),
          yMacd: yAxis(126, -0.002364, 0.002218, MACD_TICKS, (v) => (v < 0 ? "\u2212" + Math.abs(v).toFixed(5) : v.toFixed(5))),
        } as any,
      },
      plugins: [overlay],
    } as any);
    return () => chart.destroy();
  }, []);

  return (
    <div style={{ position: "fixed", left: 0, top: 0, width: W, height: H, background: BG }}>
      <canvas ref={ref} width={W} height={H} style={{ display: "block", width: W, height: H }} />
    </div>
  );
}
